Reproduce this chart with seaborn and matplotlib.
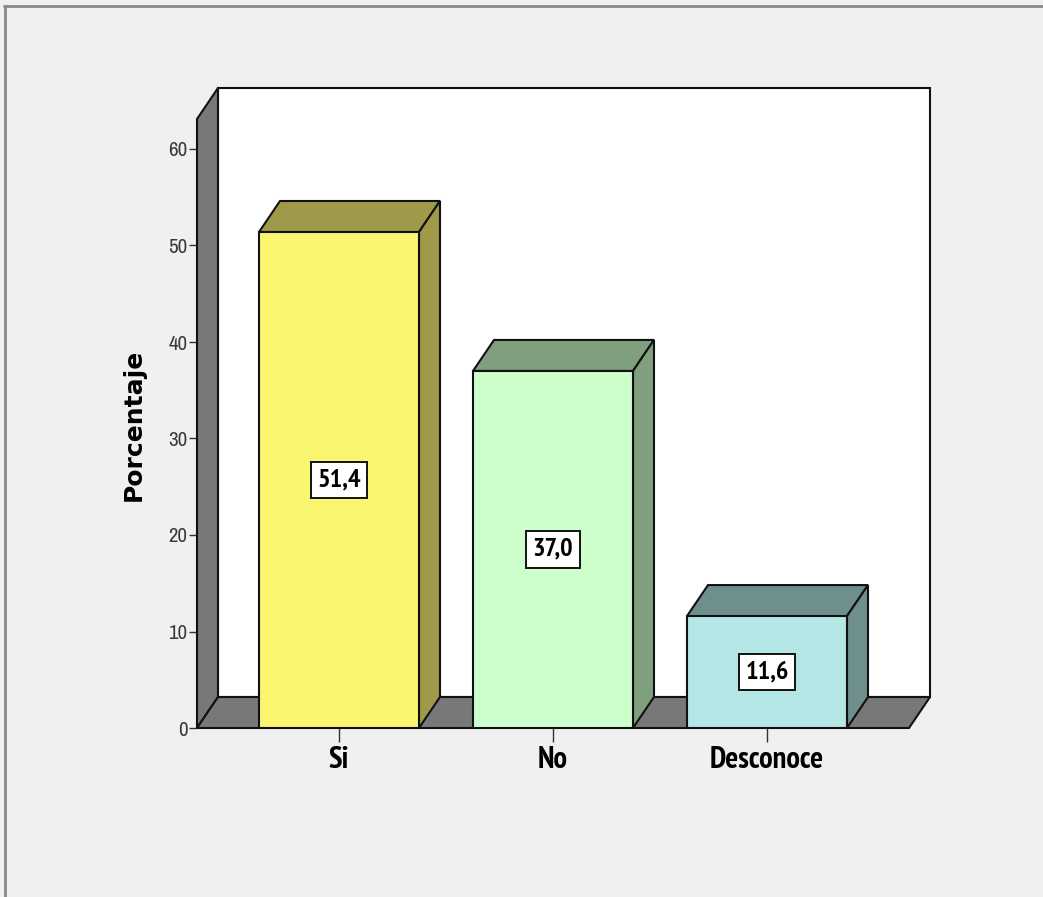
import matplotlib
matplotlib.use("Agg")
import matplotlib.pyplot as plt
from matplotlib.patches import Polygon, Rectangle
from matplotlib import font_manager
import seaborn as sns
import pandas as pd

categories = ["Si", "No", "Desconoce"]
values = [51.4, 37.0, 11.6]
labels = ["51,4", "37,0", "11,6"]
front_colors = ["#fbf672", "#ccffcc", "#b4e6e6"]
side_colors = ["#9e9a4a", "#7f9f7f", "#6f8f8f"]
y_ticks = [0, 10, 20, 30, 40, 50, 60]

weights = {}
for f in font_manager.fontManager.ttflist:
    w = f.weight if isinstance(f.weight, int) else (700 if "bold" in str(f.weight) else 400)
    if f.style == "normal":
        weights.setdefault(f.name, set()).add(w)
cands = ["Liberation Sans Narrow", "Arial Narrow", "Archivo Narrow", "PT Sans Narrow",
         "Pragati Narrow", "Roboto Condensed", "Fira Sans Condensed",
         "IBM Plex Sans Condensed", "Encode Sans Condensed", "Sofia Sans Condensed",
         "Open Sans Condensed", "Barlow Semi Condensed", "Asap Condensed",
         "Saira Semi Condensed", "Archivo"]
narrow_bold = "DejaVu Sans"
narrow_reg = "DejaVu Sans"
for cand in cands:
    if cand in weights and any(w >= 700 for w in weights[cand]):
        narrow_bold = cand
        break
for cand in cands:
    if cand in weights and any(350 <= w <= 500 for w in weights[cand]):
        narrow_reg = cand
        break

sns.set_theme(style="white")
plt.rcParams["font.family"] = ["Liberation Sans", "DejaVu Sans"]

W, H = 1043, 897
fig = plt.figure(figsize=(W / 100, H / 100), dpi=100)
fig.patch.set_facecolor("#f0f0f0")

px0, px1, py0, py1 = 197, 930, 728, 88
ax = fig.add_axes([px0 / W, (H - py0) / H, (px1 - px0) / W, (py0 - py1) / H])
ax.set_facecolor("none")

ppu_x = 214.0
ppu_y = 9.65
x0 = -(339 - 197) / ppu_x
xr = x0 + (px1 - px0) / ppu_x
ytop = (py0 - py1) / ppu_y
dx = 21 / ppu_x
dy = 31 / ppu_y
xf = xr - dx

ec = "#111111"
lw = 1.5

df = pd.DataFrame({"cat": categories, "val": values})
sns.barplot(data=df, x="cat", y="val", hue="cat", palette=front_colors, width=160 / 214,
            edgecolor=ec, linewidth=lw, legend=False, ax=ax, zorder=3, saturation=1)
bars = [p for p in ax.patches if isinstance(p, Rectangle)]
bars.sort(key=lambda p: p.get_x())

# back wall
ax.add_patch(Polygon([(x0 + dx, dy), (xr, dy), (xr, ytop), (x0 + dx, ytop)],
                     closed=True, facecolor="white", edgecolor=ec, lw=lw, zorder=0.5,
                     clip_on=False))
# left wall
ax.add_patch(Polygon([(x0, 0), (x0 + dx, dy), (x0 + dx, ytop), (x0, ytop - dy)],
                     closed=True, facecolor="#787878", edgecolor=ec, lw=lw, zorder=0.6,
                     clip_on=False))
# floor
ax.add_patch(Polygon([(x0, 0), (xf, 0), (xf + dx, dy), (x0 + dx, dy)],
                     closed=True, facecolor="#787878", edgecolor=ec, lw=lw, zorder=0.6,
                     clip_on=False))

for p, sc, lab in zip(bars, side_colors, labels):
    l = p.get_x()
    r = l + p.get_width()
    h = p.get_height()
    ax.add_patch(Polygon([(l, h), (r, h), (r + dx, h + dy), (l + dx, h + dy)],
                         closed=True, facecolor=sc, edgecolor=ec, lw=lw, zorder=2.5))
    ax.add_patch(Polygon([(r, 0), (r + dx, dy), (r + dx, h + dy), (r, h)],
                         closed=True, facecolor=sc, edgecolor=ec, lw=lw, zorder=2.5))
    ax.text(l + p.get_width() / 2, h / 2, lab, ha="center", va="center",
            fontsize=19, fontweight="bold", family=narrow_bold, color="black", zorder=5,
            bbox=dict(boxstyle="square,pad=0.25", facecolor="white", edgecolor=ec, lw=1.4))

for s in ax.spines.values():
    s.set_visible(False)

ax.set_xlim(x0, xr)
ax.set_ylim(0, ytop)
ax.set_yticks(y_ticks)
ax.set_yticklabels([str(t) for t in y_ticks], fontsize=15, color="#3a3a3a", family=narrow_reg)
ax.tick_params(axis="y", direction="out", length=6, width=1, color="#333333", left=True, pad=1)
ax.tick_params(axis="x", direction="out", length=10, width=1, color="#333333", bottom=True, pad=3)
ax.set_xticks(range(len(categories)))
ax.set_xticklabels(categories, fontsize=22, fontweight="bold", family=narrow_bold, color="black")
ax.set_xlabel("")
ax.set_ylabel("Porcentaje", fontsize=18, fontweight="bold", color="black",
              family=["DejaVu Sans"])
ax.yaxis.set_label_coords((146 - px0) / (px1 - px0), (py0 - 425) / (py0 - py1))

# outer frame lines
fig.add_artist(plt.Line2D([4 / W, 1], [1 - 6 / H, 1 - 6 / H], transform=fig.transFigure,
                          color="#888888", lw=2))
fig.add_artist(plt.Line2D([5 / W, 5 / W], [0, 1 - 6 / H], transform=fig.transFigure,
                          color="#888888", lw=2))

fig.savefig("out.png", dpi=100, facecolor=fig.get_facecolor())
